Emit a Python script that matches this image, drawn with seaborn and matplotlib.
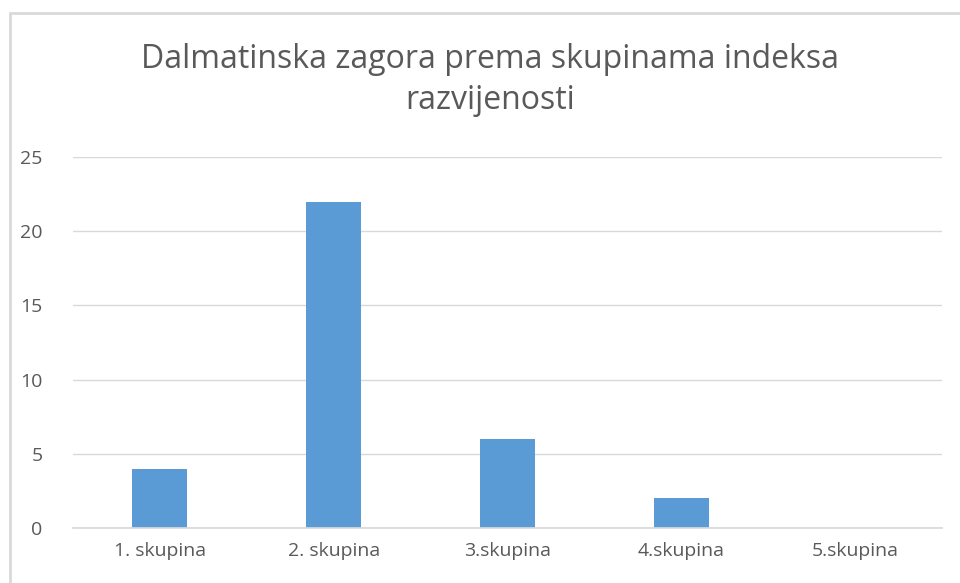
import matplotlib
matplotlib.use("Agg")
import matplotlib.pyplot as plt
import seaborn as sns
import pandas as pd
from matplotlib.patches import Rectangle

categories = ["1. skupina", "2. skupina", "3.skupina", "4.skupina", "5.skupina"]
values = [4, 22, 6, 2, 0]
title = "Dalmatinska zagora prema skupinama indeksa\nrazvijenosti"

sns.set_theme(style="white")
plt.rcParams['font.family'] = ['Open Sans', 'DejaVu Sans']

df = pd.DataFrame({"skupina": categories, "broj": values})

fig = plt.figure(figsize=(9.6, 5.83), dpi=100)
ax = fig.add_axes([73 / 960, 1 - 528 / 583, (942 - 73) / 960, (528 - 157) / 583])

sns.barplot(data=df, x="skupina", y="broj", color="#5b9bd5", saturation=1,
            width=0.316, linewidth=0, ax=ax)

ax.set_ylim(0, 25)
ax.set_xlim(-0.5, 4.5)
ax.set_yticks([0, 5, 10, 15, 20, 25])
ax.yaxis.grid(True, color="#d9d9d9", linewidth=1)
ax.set_axisbelow(True)
for s in ["top", "right", "left"]:
    ax.spines[s].set_visible(False)
ax.spines["bottom"].set_color("#d9d9d9")
ax.tick_params(axis="both", length=0, labelsize=14, labelcolor="#595959")
ax.tick_params(axis="y", pad=22)
ax.tick_params(axis="x", pad=10)
ax.set_xlabel("")
ax.set_ylabel("")

fig.text(490 / 960, 1 - 80 / 583, title, ha="center", va="center",
         fontsize=23, color="#595959", linespacing=1.35)

fig.patches.append(Rectangle((10 / 960, -0.1), 1.2, 1 - 13 / 583 + 0.1,
                             transform=fig.transFigure, fill=False,
                             edgecolor="#d9d9d9", linewidth=2))

fig.savefig("out.png", dpi=100)
